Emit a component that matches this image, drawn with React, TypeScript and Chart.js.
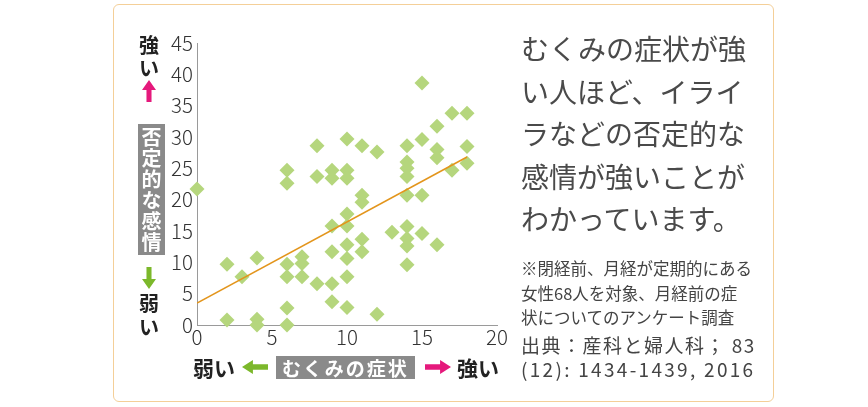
import React, { useEffect, useRef } from "react";
import { Chart, registerables } from "chart.js";

Chart.register(...registerables);

// むくみの症状 (x) and 否定的な感情 (y)
const symptomScores = [
  0,
  2, 2,
  3,
  4, 4, 4,
  6, 6, 6, 6, 6, 6,
  7, 7, 7,
  8, 8, 8,
  9, 9, 9, 9, 9, 9,
  10, 10, 10, 10, 10, 10, 10, 10, 10,
  11, 11, 11, 11, 11,
  12, 12,
  13,
  14, 14, 14, 14, 14, 14, 14, 14, 14,
  15, 15, 15, 15,
  16, 16, 16, 16,
  17, 17,
  18, 18, 18,
];
const emotionScores = [
  21.7,
  9.7, 0.8,
  7.7,
  10.7, 0.9, 0,
  24.7, 22.6, 9.7, 7.7, 2.7, 0,
  10.9, 9.8, 7.7,
  28.6, 23.7, 6.6,
  24.7, 23.4, 15.8, 11.7, 6.6, 3.7,
  29.7, 24.7, 23.4, 17.7, 15.8, 12.8, 10.6, 7.7, 2.8,
  28.6, 20.7, 19.6, 13.7, 11.7,
  27.6, 1.7,
  14.8,
  28.6, 26.0, 25.0, 23.7, 20.7, 15.7, 13.8, 12.6, 9.6,
  38.6, 29.6, 20.7, 14.6,
  31.7, 28.0, 26.7, 12.8,
  33.8, 24.7,
  33.8, 28.5, 25.8,
];
// regression line end points
const trendX = [0, 18];
const trendY = [3.5, 26.8];

const xTicks = [0, 5, 10, 15, 20];
const yTicks = [0, 5, 10, 15, 20, 25, 30, 35, 40, 45];

const summaryLines = [
  "むくみの症状が強",
  "い人ほど、イライ",
  "ラなどの否定的な",
  "感情が強いことが",
  "わかっています。",
];
const noteLines = [
  "※閉経前、月経が定期的にある",
  "女性68人を対象、月経前の症",
  "状についてのアンケート調査",
];
const sourceLines = ["出典：産科と婦人科； 83", "(12): 1434-1439, 2016"];

const JP = '"Noto Sans CJK JP", "Noto Sans", sans-serif';
const PINK = "#e5197c";
const GREEN = "#7cb82b";

const abs = (s: React.CSSProperties): React.CSSProperties => ({
  position: "absolute",
  margin: 0,
  fontFamily: JP,
  whiteSpace: "nowrap",
  ...s,
});

function Arrow({ dir, color, left, top, w, h }: { dir: string; color: string; left: number; top: number; w: number; h: number }) {
  let pts = "";
  if (dir === "up") pts = `${w * 0.5},0 ${w},${h * 0.45} ${w * 0.68},${h * 0.45} ${w * 0.68},${h} ${w * 0.32},${h} ${w * 0.32},${h * 0.45} 0,${h * 0.45}`;
  if (dir === "down") pts = `${w * 0.32},0 ${w * 0.68},0 ${w * 0.68},${h * 0.55} ${w},${h * 0.55} ${w * 0.5},${h} 0,${h * 0.55} ${w * 0.32},${h * 0.55}`;
  if (dir === "left") pts = `0,${h * 0.5} ${w * 0.42},0 ${w * 0.42},${h * 0.3} ${w},${h * 0.3} ${w},${h * 0.7} ${w * 0.42},${h * 0.7} ${w * 0.42},${h}`;
  if (dir === "right") pts = `${w},${h * 0.5} ${w * 0.58},0 ${w * 0.58},${h * 0.3} 0,${h * 0.3} 0,${h * 0.7} ${w * 0.58},${h * 0.7} ${w * 0.58},${h}`;
  return (
    <svg style={{ position: "absolute", left, top }} width={w} height={h}>
      <polygon points={pts} fill={color} />
    </svg>
  );
}

export default function App() {
  const canvasRef = useRef<HTMLCanvasElement | null>(null);

  useEffect(() => {
    const canvas = canvasRef.current;
    if (!canvas) return;
    const points = symptomScores.map((x, i) => ({ x, y: emotionScores[i] }));
    const trend = trendX.map((x, i) => ({ x, y: trendY[i] }));
    const chart = new Chart(canvas, {
      type: "scatter",
      data: {
        datasets: [
          {
            type: "line",
            data: trend,
            borderColor: "#e3951c",
            borderWidth: 1.6,
            pointRadius: 0,
            fill: false,
            order: 0,
          },
          {
            type: "scatter",
            data: points,
            pointStyle: "rectRot",
            pointRadius: 7.5,
            pointHoverRadius: 7.5,
            backgroundColor: "#b5d67d",
            borderWidth: 0,
            clip: false,
            order: 1,
          },
        ],
      },
      options: {
        animation: false,
        responsive: false,
        events: [],
        layout: { padding: { left: 0, top: 43, right: 371, bottom: 0 } },
        plugins: { legend: { display: false }, tooltip: { enabled: false } },
        scales: {
          x: {
            type: "linear",
            min: 0,
            max: 20,
            afterBuildTicks: (s: any) => {
              s.ticks = xTicks.map((v) => ({ value: v }));
            },
            afterFit: (s: any) => {
              s.height = 82;
            },
            grid: { display: false, drawTicks: false },
            border: { display: true, color: "#9a9a9a", width: 1 },
            ticks: {
              color: "#333",
              padding: 0,
              maxRotation: 0,
              font: { family: JP, size: 20.5, weight: 300 },
            },
          },
          y: {
            type: "linear",
            min: 0,
            max: 45,
            afterBuildTicks: (s: any) => {
              s.ticks = yTicks.map((v) => ({ value: v }));
            },
            afterFit: (s: any) => {
              s.width = 197;
            },
            grid: { display: false, drawTicks: false },
            border: { display: true, color: "#9a9a9a", width: 1 },
            ticks: {
              color: "#333",
              padding: 4,
              font: { family: JP, size: 20.5, weight: 300 },
            },
          },
        },
      },
    } as any);
    return () => chart.destroy();
  }, []);

  return (
    <div style={{ position: "absolute", left: 0, top: 0, width: 868, height: 407, background: "#fff", overflow: "hidden" }}>
      <div
        style={{
          position: "absolute",
          left: 113,
          top: 4,
          width: 661,
          height: 398,
          border: "1.5px solid #f4cf98",
          borderRadius: 6,
          boxSizing: "border-box",
        }}
      />
      <canvas ref={canvasRef} width={868} height={407} style={{ position: "absolute", left: 0, top: 0, width: 868, height: 407 }} />

      {/* left vertical axis label */}
      <div style={abs({ left: 137, top: 33, width: 24, textAlign: "center", fontSize: 20, fontWeight: 700, lineHeight: "23px", color: "#222" })}>
        強<br />い
      </div>
      <Arrow dir="up" color={PINK} left={142} top={80} w={14} h={22} />
      <div
        style={abs({
          left: 138,
          top: 124,
          width: 27,
          height: 131,
          background: "#8a8a8a",
          color: "#fff",
          fontSize: 20,
          fontWeight: 700,
          writingMode: "vertical-rl",
          display: "flex",
          alignItems: "center",
          justifyContent: "center",
          letterSpacing: 1,
          lineHeight: "27px",
        })}
      >
        否定的な感情
      </div>
      <Arrow dir="down" color={GREEN} left={142} top={267} w={14} h={22} />
      <div style={abs({ left: 137, top: 291, width: 24, textAlign: "center", fontSize: 20, fontWeight: 700, lineHeight: "24px", color: "#222" })}>
        弱<br />い
      </div>

      {/* bottom horizontal axis label */}
      <div style={abs({ left: 193, top: 355, fontSize: 21, fontWeight: 700, lineHeight: "24px", color: "#222" })}>弱い</div>
      <Arrow dir="left" color={GREEN} left={242} top={360} w={26} h={14} />
      <div
        style={abs({
          left: 276,
          top: 356,
          width: 139,
          height: 23,
          background: "#8a8a8a",
          color: "#fff",
          fontSize: 19,
          fontWeight: 700,
          lineHeight: "23px",
          textAlign: "center",
          letterSpacing: 2,
        })}
      >
        むくみの症状
      </div>
      <Arrow dir="right" color={PINK} left={425} top={360} w={26} h={14} />
      <div style={abs({ left: 457, top: 355, fontSize: 21, fontWeight: 700, lineHeight: "24px", color: "#222" })}>強い</div>

      {/* right-hand text */}
      <div style={abs({ left: 521, top: 27, fontSize: 28, lineHeight: "42.5px", color: "#4a4a4a" })}>
        {summaryLines.map((l, i) => (
          <div key={i}>{l}</div>
        ))}
      </div>
      <div style={abs({ left: 521, top: 256, fontSize: 16.5, lineHeight: "24.5px", color: "#444" })}>
        {noteLines.map((l, i) => (
          <div key={i}>{l}</div>
        ))}
      </div>
      <div style={abs({ left: 521, top: 333, fontSize: 19, lineHeight: "23.5px", color: "#444" })}>
        <div style={{ letterSpacing: 1.5 }}>{sourceLines[0]}</div>
        <div style={{ letterSpacing: 2.3 }}>{sourceLines[1]}</div>
      </div>
    </div>
  );
}
